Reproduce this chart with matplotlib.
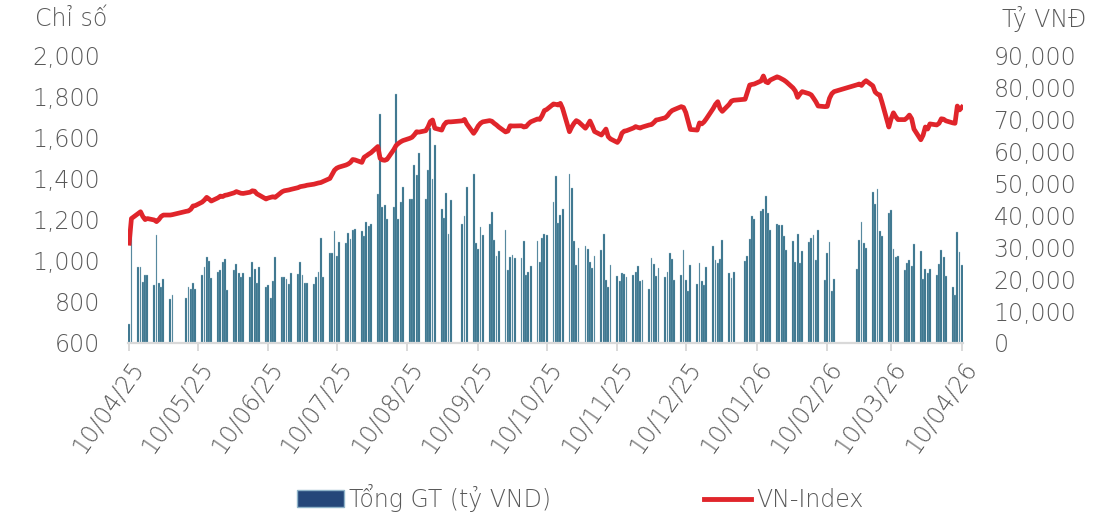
import numpy as np
import pandas as pd
import matplotlib
matplotlib.use('Agg')
import matplotlib.pyplot as plt
import matplotlib.dates as mdates
from matplotlib.patches import Patch
from matplotlib.lines import Line2D

# trading calendar (HOSE), market closed on these days
holidays = ['2025-04-30', '2025-05-01', '2025-05-02', '2025-09-01', '2025-09-02',
            '2026-01-01', '2026-01-02', '2026-02-16', '2026-02-17', '2026-02-18',
            '2026-02-19', '2026-02-20']
days = pd.bdate_range('2025-04-10', '2026-04-10', freq='C', holidays=holidays)

# Tong GT (ty VND), one value per trading day, week by week
gt = [6000, 38500,
      23800, 23800, 19200, 21250, 21250,
      18100, 33750, 18650, 17400, 20000,
      13750, 15100,
      14100, 17600, 16900, 18850, 16950,
      21250, 23600, 26900, 25600, 20400,
      22100, 22800, 25200, 26150, 16550,
      22800, 24600, 21800, 20700, 21950,
      20500, 25400, 23000, 18850, 23750,
      17600, 18150, 14150, 19400, 26900,
      20700, 20700, 19900, 18450, 21900,
      21450, 25300, 21250, 18650, 18650,
      18450, 20700, 22100, 32700, 20700,
      28000, 28000, 35000, 27300, 31650,
      31150, 34250, 32400, 35300, 35500,
      35100, 33450, 37700, 36550, 37100,
      46450, 71450, 42400, 43050, 38750,
      42400, 77700, 38650, 43950, 48850,
      44900, 45000, 55600, 52500, 59300,
      44900, 54050, 67100, 51250, 61950,
      41900, 39150, 46950, 34050, 44700,
      37100, 39700, 48650,
      52700, 31350, 29400, 36350, 33850,
      37200, 40850, 32100, 27300, 28650,
      35400, 22800, 26750, 27400, 26550,
      26550, 31900, 21250, 22200, 24150,
      31900, 25300, 32800, 34050, 33750,
      44150, 52100, 37600, 40000, 41900,
      52900, 48550, 31750, 24250, 29600,
      30400, 29250, 25400, 23550, 27300,
      29050, 33950, 19800, 17500, 24250,
      20950, 19400, 21900, 21450, 20500,
      21250, 22200, 23950, 19400, 19800,
      17000, 26450, 24600, 20950, 23350,
      20750, 22100, 28250, 26250, 19700,
      21250, 29050, 19700, 16250, 24400,
      18450, 24900, 19400, 18150, 23750,
      30300, 25950, 25100, 26250, 32300,
      21900, 20400, 22100,
      25600, 27200, 32500, 39800, 38750,
      41250, 41900, 45950, 40750, 35300,
      37300, 37000, 37000, 33350, 28950,
      31900, 25200, 34150, 25100, 28650,
      31550, 32800, 33650, 25850, 35200,
      19700, 28250, 31650, 16350, 19900,
      23150, 32200, 37700, 31250, 29700,
      47100, 43450, 48000, 35000, 33350,
      40750, 41450, 29250, 27000, 27200,
      22800, 25100, 25950, 24050, 30950,
      28850, 20100, 23000, 21750, 23150,
      21250, 24700, 28950, 27000, 20850,
      17500, 14900, 34600, 28450, 24250]

# VN-Index close
vni = [1085, 1205,
       1230, 1238, 1215, 1200, 1205,
       1198, 1190, 1200, 1215, 1222,
       1222, 1224,
       1240, 1242, 1250, 1266, 1268,
       1285, 1295, 1308, 1300, 1290,
       1306, 1314, 1312, 1318, 1320,
       1330, 1336, 1332, 1328, 1327,
       1333, 1340, 1338, 1325, 1319,
       1300, 1305, 1308, 1311, 1308,
       1335, 1340, 1342, 1344, 1347,
       1355, 1360, 1362, 1364, 1367,
       1372, 1375, 1378, 1380, 1385,
       1400, 1420, 1440, 1450, 1455,
       1465, 1470, 1478, 1492, 1490,
       1478, 1503, 1510, 1518, 1525,
       1555, 1498, 1490, 1488, 1492,
       1540, 1560, 1570, 1578, 1584,
       1595, 1600, 1612, 1627, 1625,
       1632, 1650, 1676, 1684, 1644,
       1635, 1660, 1673, 1675, 1675,
       1680, 1687, 1665,
       1619, 1635, 1655, 1668, 1675,
       1681, 1678, 1668, 1660, 1650,
       1626, 1630, 1656, 1655, 1655,
       1656, 1650, 1652, 1665, 1675,
       1689, 1687, 1705, 1730, 1735,
       1762, 1760, 1757, 1765, 1740,
       1627, 1650, 1668, 1681, 1675,
       1644, 1660, 1679, 1655, 1628,
       1611, 1625, 1640, 1603, 1592,
       1575, 1590, 1620, 1630, 1632,
       1645, 1652, 1648, 1645, 1650,
       1660, 1662, 1672, 1684, 1686,
       1695, 1705, 1720, 1730, 1735,
       1749, 1745, 1720, 1680, 1638,
       1635, 1670, 1665, 1675, 1690,
       1740, 1760, 1773, 1740, 1726,
       1760, 1776, 1780,
       1785, 1820, 1854, 1857, 1859,
       1874, 1898, 1870, 1865, 1878,
       1894, 1890, 1884, 1878, 1870,
       1840, 1825, 1794, 1810, 1822,
       1812, 1806, 1790, 1773, 1752,
       1749, 1750, 1790, 1812, 1822,
       1855, 1859, 1852, 1866, 1875,
       1850, 1820, 1810, 1806, 1770,
       1650, 1690, 1719, 1700, 1686,
       1686, 1695, 1708, 1690, 1640,
       1588, 1610, 1650, 1640, 1665,
       1660, 1668, 1690, 1688, 1680,
       1670, 1668, 1752, 1733, 1746]

tick_dates = pd.date_range('2025-04-01', '2026-04-01', freq='MS') + pd.Timedelta(days=9)

txt = '#595959'
plt.rcParams['font.family'] = 'DejaVu Sans'
plt.rcParams['font.weight'] = 'light'

fig = plt.figure(figsize=(10.99, 5.18), dpi=100)
ax = fig.add_axes([128/1099, 1-343/518, 835/1099, 288/518])
ax2 = ax.twinx()

ax2.bar(days, gt, width=0.8, color='#2c6a84', edgecolor='#a9c6d3', linewidth=0.25)
ax.plot(days, vni, color='#e0252b', lw=3.4, solid_joinstyle='round')

ax.set_zorder(ax2.get_zorder()+1)
ax.patch.set_visible(False)

ax.set_xlim(pd.Timestamp('2025-04-09 12:00'), pd.Timestamp('2026-04-10 12:00'))
ax.set_ylim(600, 2000)
ax2.set_ylim(0, 90000)
ax.set_yticks(np.arange(600, 2001, 200))
ax2.set_yticks(np.arange(0, 90001, 10000))
ax.yaxis.set_major_formatter(matplotlib.ticker.StrMethodFormatter('{x:,.0f}'))
ax2.yaxis.set_major_formatter(matplotlib.ticker.StrMethodFormatter('{x:,.0f}'))

ax.set_xticks(tick_dates)
ax.xaxis.set_major_formatter(mdates.DateFormatter('%d/%m/%y'))
for a in (ax, ax2):
    for s in a.spines.values():
        s.set_visible(False)
ax.spines['bottom'].set_visible(True)
ax.spines['bottom'].set_color('#d9d9d9')
ax.spines['bottom'].set_linewidth(1.6)

ax.tick_params(axis='x', length=6, width=1.4, color='#d9d9d9', labelsize=17,
               labelcolor=txt, pad=4)
plt.setp(ax.get_xticklabels(), rotation=55, ha='right', rotation_mode='anchor')
ax.tick_params(axis='y', length=0, labelsize=17, labelcolor=txt, pad=20)
ax2.tick_params(axis='y', length=0, labelsize=17, labelcolor=txt, pad=22)
for lab in ax2.get_yticklabels():
    lab.set_ha('left')

fig.text(35/1099, 1-19/518, 'Chỉ số', fontsize=17, color=txt, va='center', ha='left')
fig.text(1002/1099, 1-19/518, 'Tỷ VNĐ', fontsize=17, color=txt, va='center', ha='left')

handles = [Patch(facecolor='#25477a', edgecolor='#8fb3c9', linewidth=1),
           Line2D([0], [0], color='#e0252b', lw=3.5)]
fig.legend(handles, ['Tổng GT (tỷ VND)', 'VN-Index'], loc='center',
           bbox_to_anchor=(580/1099, 1-498/518), ncol=2, frameon=False,
           fontsize=17, labelcolor=txt, handlelength=2.0, handletextpad=0.2,
           columnspacing=6.5)

fig.savefig('out.png', dpi=100)
